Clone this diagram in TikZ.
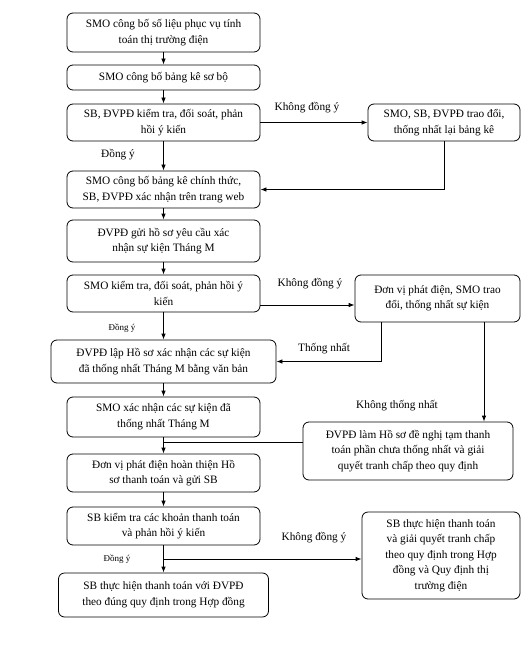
\documentclass[tikz,border=0pt]{standalone}
\usepackage{fontspec}
\setmainfont{Liberation Serif}
\newfontfamily\vnserif{Liberation Serif}
\usetikzlibrary{arrows.meta}
\begin{document}
\begin{tikzpicture}[x=1pt,y=-1pt,
  box/.style={draw, rounded corners=6pt, line width=0.8pt, align=center, inner sep=1pt,
    font=\vnserif\fontsize{11.3}{15.5}\selectfont},
  arr/.style={-{Latex[length=6pt,width=4.5pt]}, line width=0.8pt},
  ln/.style={line width=0.8pt},
  lbl/.style={font=\vnserif\fontsize{11.3}{13}\selectfont, inner sep=0pt},
  slbl/.style={font=\vnserif\fontsize{9}{11}\selectfont, inner sep=0pt}]
\useasboundingbox (0,0) rectangle (524,647);
\fill[white] (0,0) rectangle (524,647);

\node[box, minimum width=193pt, minimum height=39pt] (b1) at (163.5,32.5) {SMO công bố số liệu phục vụ tính\\toán thị trường điện};
\node[box, minimum width=193pt, minimum height=25pt] (b2) at (163.5,77.5) {SMO công bố bảng kê sơ bộ};
\node[box, minimum width=193pt, minimum height=37pt] (b3) at (163.5,122.5) {SB, ĐVPĐ kiểm tra, đối soát, phản\\hồi ý kiến};
\node[box, minimum width=152pt, minimum height=37pt] (b3r) at (444,122.5) {SMO, SB, ĐVPĐ trao đổi,\\thống nhất lại bảng kê};
\node[box, minimum width=193pt, minimum height=37pt] (b4) at (163.5,189.5) {SMO công bố bảng kê chính thức,\\SB, ĐVPĐ xác nhận trên trang web};
\node[box, minimum width=193pt, minimum height=42pt] (b5) at (163.5,241) {ĐVPĐ gửi hồ sơ yêu cầu xác\\nhận sự kiện Tháng M};
\node[box, minimum width=193pt, minimum height=37pt] (b6) at (163.5,293.5) {SMO kiểm tra, đối soát, phản hồi ý\\kiến};
\node[box, minimum width=165pt, minimum height=47pt] (b6r) at (437.5,298.5) {Đơn vị phát điện, SMO trao\\đổi, thống nhất sự kiện};
\node[box, minimum width=225pt, minimum height=43pt] (b7) at (163.5,361.5) {ĐVPĐ lập Hồ sơ xác nhận các sự kiện\\đã thống nhất Tháng M bằng văn bản};
\node[box, minimum width=193pt, minimum height=40pt] (b8) at (163.5,417) {SMO xác nhận các sự kiện đã\\thống nhất Tháng M};
\node[box, minimum width=210pt, minimum height=58pt] (b8r) at (408,451) {ĐVPĐ làm Hồ sơ đề nghị tạm thanh\\toán phần chưa thống nhất và giải\\quyết tranh chấp theo quy định};
\node[box, minimum width=193pt, minimum height=38pt] (b9) at (163.5,473) {Đơn vị phát điện hoàn thiện Hồ\\sơ thanh toán và gửi SB};
\node[box, minimum width=193pt, minimum height=38pt] (b10) at (163.5,526) {SB kiểm tra các khoản thanh toán\\và phản hồi ý kiến};
\node[box, minimum width=210pt, minimum height=44pt] (b11) at (163.5,595) {SB thực hiện thanh toán với ĐVPĐ\\theo đúng quy định trong Hợp đồng};
\node[box, minimum width=158pt, minimum height=87pt] (b11r) at (441,555.5) {SB thực hiện thanh toán\\và giải quyết tranh chấp\\theo quy định trong Hợp\\đồng và Quy định thị\\trường điện};

% main column
\draw[arr] (b1) -- (b2);
\draw[arr] (b2) -- (b3);
\draw[arr] (b3) -- (b4);
\draw[arr] (b4) -- (b5);
\draw[arr] (b5) -- (b6);
\draw[arr] (b6) -- (b7);
\draw[arr] (b7) -- (b8);
\draw[arr] (b8) -- (b9);
\draw[arr] (b9) -- (b10);
\draw[arr] (b10) -- (b11);

% side branches
\draw[arr] (b3.east) -- (b3r.west);
\draw[arr] (b3r.south) |- (b4.east);
\draw[arr] ([yshift=-11.5pt]b6.east) -- ([yshift=-11.5pt]b6.east -| b6r.west);
\draw[arr] ([xshift=-56.5pt]b6r.south) |- (b7.east);
\draw[arr] ([xshift=46.5pt]b6r.south) -- ([xshift=46.5pt]b6r.south |- b8r.north);
\draw[ln] ([yshift=9pt]b8r.west) -- ([yshift=9pt]b8r.west -| b8.south);
\coordinate (j) at (163.5,559);
\draw[arr] (j) -- (j -| b11r.west);

% labels
\node[lbl] (l1) at (307,108) {Không đồng ý};
\node[lbl] (l2) at (118,155) {Đồng ý};
\node[lbl] (l3) at (310,284) {Không đồng ý};
\node[slbl] (l4) at (122,328) {Đồng ý};
\node[lbl] (l5) at (324,349) {Thống nhất};
\node[lbl] (l6) at (397,406) {Không thống nhất};
\node[lbl] (l7) at (314,538) {Không đồng ý};
\node[slbl] (l8) at (117,559) {Đồng ý};
\end{tikzpicture}
\end{document}
